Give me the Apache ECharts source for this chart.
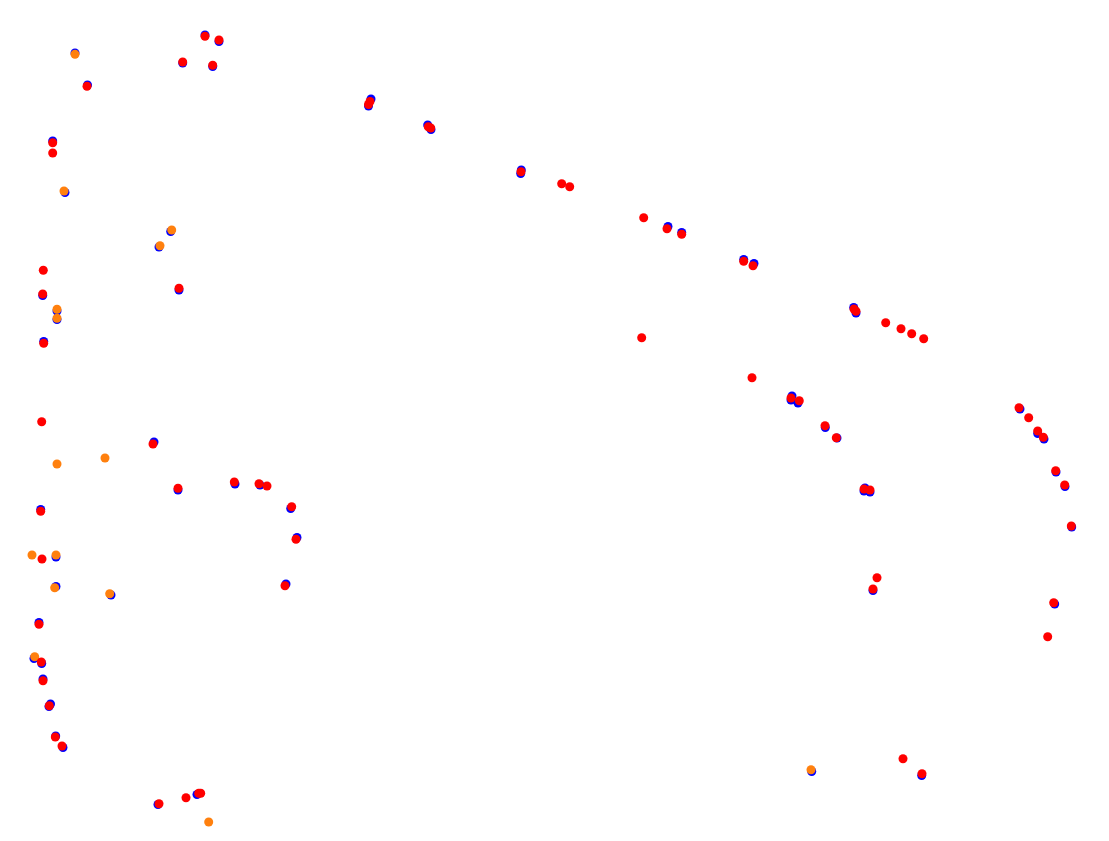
<!DOCTYPE html>
<html>
<head>
<meta charset="utf-8">
<script src="https://cdn.jsdelivr.net/npm/echarts@6/dist/echarts.min.js"></script>
<style>html,body{margin:0;padding:0;background:#fff}#c{width:1109px;height:841px}</style>
</head>
<body>
<div id="c"></div>
<script>
// Point positions (x, y); y grows downward
const bluePoints = [
  [75,53],[87.5,85],[205,35],[219,41.5],[182.7,63],[212.7,66.5],[52.7,141],[65,192.5],
  [170.7,231.5],[159,247],[42.7,295.5],[57,311],[57,319.5],[43.7,341.5],[179,290],
  [154,442],[178,490],[235,484],[260,485],[290.7,508.5],[297,537.5],[40.7,509.5],
  [56,557],[56,586.5],[111,595],[286,584],[39,622.5],[34,658.5],[41.7,663.5],[43,679],
  [50.5,704],[49,706.5],[55.7,736],[63,747.5],[158,804.5],[197,794.5],
  [371,99],[368.5,106],[427.7,125],[431,129.5],[521.3,170],[520.7,173.5],[668,226.5],[681.7,232.5],
  [743.7,259.5],[754,263.5],[853.7,307.5],[856,313],[792,396],[791,400],[798,403],
  [825.3,427.5],[837,438],[865,488],[864,491],[870,492],[873,590.5],
  [1020,409],[1037.7,433.5],[1044,439],[1056,472],[1065,486.5],[1071.7,527],[1054.7,604],
  [811.7,771.5],[921.7,775.5]
];
const orangePoints = [
  [75,54.3],[64,191],[171.7,230],[160,245.7],[57,309.3],[57,318.3],[57,464],[105,458],
  [32,555],[56,555],[54.7,587.7],[109.7,593.7],[34.7,656.7],[208.7,822],[811,769.7]
];
const redPoints = [
  [87,86.3],[205,36.3],[219,40],[182.7,62],[212.7,65.3],[52.7,142.7],[52.7,153],
  [43.3,270.3],[42.7,294],[43.7,343.3],[179,288.3],[41.7,421.7],[153,444],[178,488.3],
  [234.3,482],[259,483.7],[267,486],[291.7,506.7],[296,539.3],[40.7,511.3],[42,559],
  [285,585.7],[39,624.3],[41.3,662],[43,680.7],[49.3,705.7],[55.3,737],[62,746],
  [159,803.7],[186,797.7],[198.7,793.3],[200.7,793.3],
  [370,101.5],[368.5,104.5],[428.3,126.7],[430.7,128],[521,171.7],[561.7,183.7],[569.7,186.7],
  [643.7,217.7],[667,228.7],[681.7,234.3],[743.7,261.3],[753,265.7],[854,309],[856,311.3],
  [885.7,322.7],[901,328.7],[911.7,333.7],[923.7,338.7],[641.7,337.7],[752,377.7],
  [791,398],[799.3,400.7],[825,425.7],[836.3,437.7],[864,489],[870,490],[877,577.7],[873,589],
  [1019,407.7],[1028.7,417.7],[1037.7,431],[1043.3,437.3],[1055.7,470.7],[1064.7,485],
  [1071.3,526],[1053.7,602.7],[1047.7,636.7],[903,758.7],[922,773.7]
];

const chart = echarts.init(document.getElementById('c'));
chart.setOption({
  animation: false,
  backgroundColor: '#ffffff',
  grid: {left: 0, right: 0, top: 0, bottom: 0},
  xAxis: {type: 'value', min: 0, max: 1109, show: false},
  yAxis: {type: 'value', min: 0, max: 841, inverse: true, show: false},
  series: [
    {type: 'scatter', data: bluePoints, symbolSize: 9, itemStyle: {color: '#0000ff', opacity: 1}, z: 1},
    {type: 'scatter', data: orangePoints, symbolSize: 9, itemStyle: {color: '#ff800e', opacity: 1}, z: 2},
    {type: 'scatter', data: redPoints, symbolSize: 9, itemStyle: {color: '#ff0000', opacity: 1}, z: 3}
  ]
});
</script>
</body>
</html>
